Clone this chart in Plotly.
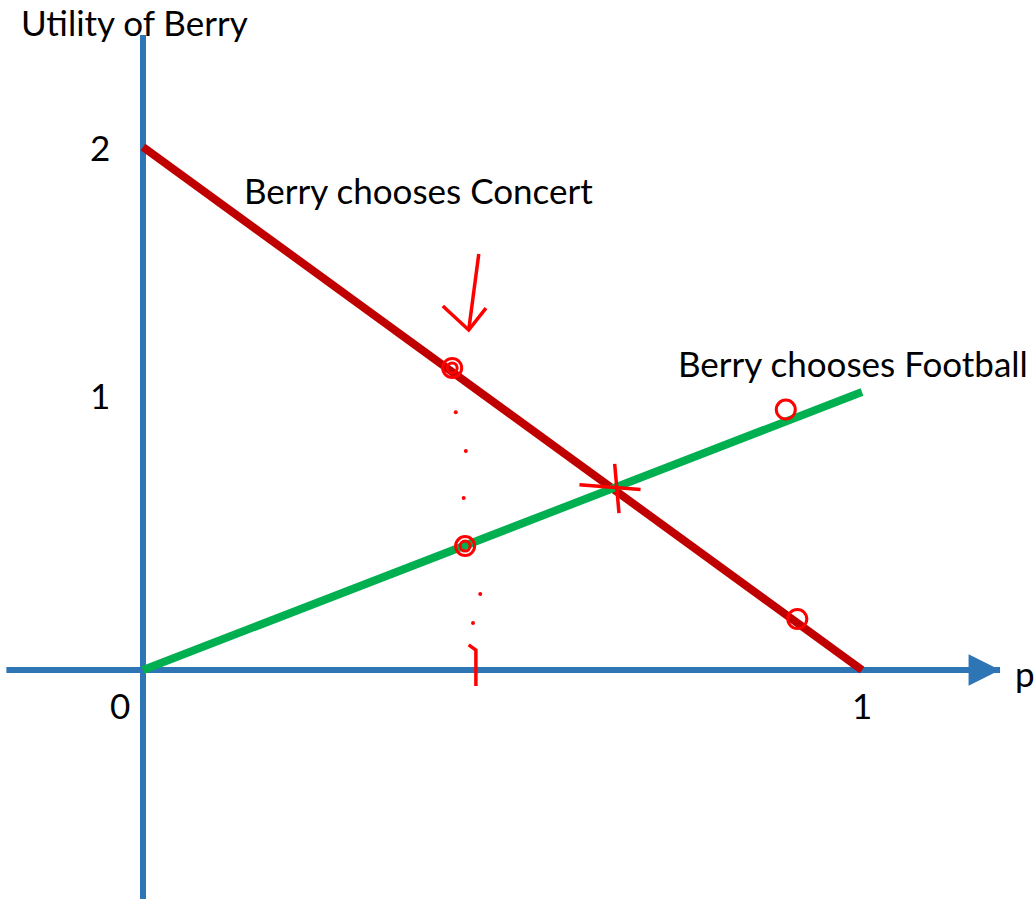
import plotly.graph_objects as go

# ---- data (p on x axis, utility on y axis) ----
p_concert = [0, 1]
u_concert = [2, 0]
p_football = [0, 1]
u_football = [0, 1.063]

x_axis_extent = [-0.19, 1.192]     # p range of drawn horizontal axis arrow
y_axis_extent = [-0.876, 2.428]    # utility range of drawn vertical axis arrow

y_tick_vals = [2, 1.05]
y_tick_text = ["2", "1"]
x_tick_vals = [0, 1]
x_tick_text = ["0", "1"]

# hand-drawn ink marks
ink_circle_p = [0.430, 0.448, 0.894, 0.910]
ink_circle_u = [1.155, 0.474, 0.996, 0.195]
star_h_p = [0.607, 0.692]
star_h_u = [0.708, 0.690]
star_v_p = [0.656, 0.662]
star_v_u = [0.788, 0.600]
arrow_shaft_p = [0.467, 0.453]
arrow_shaft_u = [1.591, 1.300]
arrow_head_p = [0.417, 0.453, 0.477]
arrow_head_u = [1.392, 1.300, 1.384]
dots_p = [0.435, 0.449, 0.446, 0.469, 0.459]
dots_u = [0.986, 0.837, 0.658, 0.291, 0.180]
hook_p = [0.453, 0.463, 0.463]
hook_u = [0.096, 0.076, -0.061]

BLUE = "#2e75b6"
RED = "#c00000"
GREEN = "#00b050"
INK = "#ff0000"
FONT = "Lato"

fig = go.Figure()

# axis lines
fig.add_trace(go.Scatter(x=x_axis_extent, y=[0, 0], mode="lines",
                         line=dict(color=BLUE, width=6), hoverinfo="skip"))
fig.add_trace(go.Scatter(x=[0, 0], y=y_axis_extent, mode="lines",
                         line=dict(color=BLUE, width=6), hoverinfo="skip"))

# main lines
fig.add_trace(go.Scatter(x=p_concert, y=u_concert, mode="lines",
                         line=dict(color=RED, width=8), name="Berry chooses Concert"))
fig.add_trace(go.Scatter(x=p_football, y=u_football, mode="lines",
                         line=dict(color=GREEN, width=8), name="Berry chooses Football"))

# ink
fig.add_trace(go.Scatter(x=ink_circle_p, y=ink_circle_u, mode="markers",
                         marker=dict(symbol="circle-open", size=19, color=INK,
                                     line=dict(width=3, color=INK))))
fig.add_trace(go.Scatter(x=ink_circle_p[:2], y=ink_circle_u[:2], mode="markers",
                         marker=dict(symbol="circle-open", size=10, color=INK,
                                     line=dict(width=3, color=INK))))
for xs, ys in [(star_h_p, star_h_u), (star_v_p, star_v_u),
               (arrow_shaft_p, arrow_shaft_u), (arrow_head_p, arrow_head_u),
               (hook_p, hook_u)]:
    fig.add_trace(go.Scatter(x=xs, y=ys, mode="lines",
                             line=dict(color=INK, width=3.5), hoverinfo="skip"))
fig.add_trace(go.Scatter(x=dots_p, y=dots_u, mode="markers",
                         marker=dict(symbol="circle", size=4, color=INK)))

# axis arrowheads
fig.add_annotation(x=1.192, y=0, ax=1.17, ay=0, xref="x", yref="y",
                   axref="x", ayref="y", showarrow=True, arrowhead=2,
                   arrowsize=1.05, arrowwidth=6, arrowcolor=BLUE, text="")
fig.add_annotation(x=0, y=2.428, ax=0, ay=2.40, xref="x", yref="y",
                   axref="x", ayref="y", showarrow=True, arrowhead=2,
                   arrowsize=1.05, arrowwidth=6, arrowcolor=BLUE, text="")

tf = dict(family=FONT, size=35, color="black")
# tick labels
for v, t in zip(y_tick_vals, y_tick_text):
    fig.add_annotation(x=-0.06, y=v, xref="x", yref="y", text=t, showarrow=False,
                       font=tf, xanchor="center", yanchor="middle")
fig.add_annotation(x=-0.032, y=-0.135, xref="x", yref="y", text=x_tick_text[0],
                   showarrow=False, font=tf, xanchor="center", yanchor="middle")
fig.add_annotation(x=1.0, y=-0.135, xref="x", yref="y", text=x_tick_text[1],
                   showarrow=False, font=tf, xanchor="center", yanchor="middle")
fig.add_annotation(x=1.227, y=-0.01, xref="x", yref="y", text="p",
                   showarrow=False, font=tf, xanchor="center", yanchor="middle")

# titles / labels
fig.add_annotation(x=-0.012, y=2.478, xref="x", yref="y", text="Utility of Berry",
                   showarrow=False, font=tf, xanchor="center", yanchor="middle")
fig.add_annotation(x=0.383, y=1.835, xref="x", yref="y", text="Berry chooses Concert",
                   showarrow=False, font=tf, xanchor="center", yanchor="middle")
fig.add_annotation(x=0.988, y=1.173, xref="x", yref="y", text="Berry chooses Football",
                   showarrow=False, font=tf, xanchor="center", yanchor="middle")

fig.update_layout(
    width=1036, height=899,
    margin=dict(l=0, r=0, t=0, b=0),
    paper_bgcolor="white", plot_bgcolor="white",
    showlegend=False,
    hovermode=False,
    xaxis=dict(range=[-0.1989, 1.2420], visible=False, fixedrange=True),
    yaxis=dict(range=[-0.8757, 2.5621], visible=False, fixedrange=True),
)

fig.write_html("out.html",
               config={"displayModeBar": False, "staticPlot": True},
               post_script="document.body.style.margin='0';"
                           "document.body.style.overflow='hidden';")
